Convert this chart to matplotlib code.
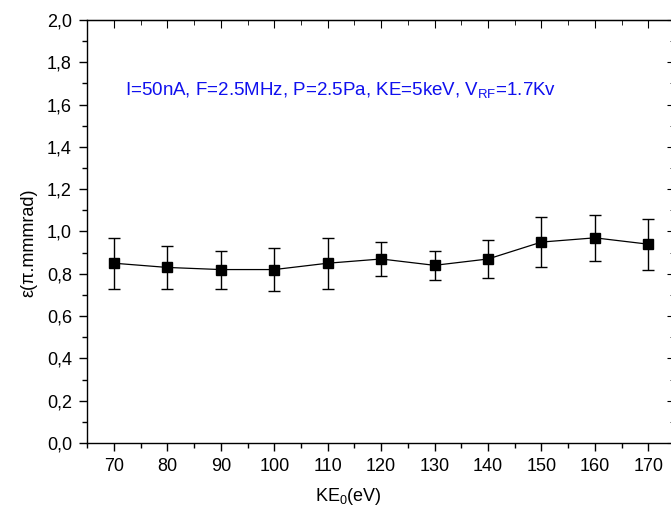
import numpy as np
import matplotlib
matplotlib.use("Agg")
from matplotlib import pyplot as plt
from matplotlib.ticker import MultipleLocator, FuncFormatter

plt.rcParams['font.family'] = ['Liberation Sans', 'DejaVu Sans']
plt.rcParams['mathtext.fontset'] = 'custom'
plt.rcParams['mathtext.rm'] = 'Liberation Sans'
plt.rcParams['mathtext.it'] = 'Liberation Sans'

# data
ke0 = [70, 80, 90, 100, 110, 120, 130, 140, 150, 160, 170]
emit = [0.85, 0.83, 0.82, 0.82, 0.85, 0.87, 0.84, 0.87, 0.95, 0.97, 0.94]
err_lo = [0.73, 0.73, 0.73, 0.72, 0.73, 0.79, 0.77, 0.78, 0.83, 0.86, 0.82]
err_hi = [0.97, 0.93, 0.91, 0.92, 0.97, 0.95, 0.91, 0.96, 1.07, 1.08, 1.06]

emit = np.array(emit)
yerr = [emit - np.array(err_lo), np.array(err_hi) - emit]

fig = plt.figure(figsize=(6.71, 5.09), dpi=100)
ax = fig.add_axes([0.130, 0.1297, 0.876, 0.831])

ax.errorbar(ke0, emit, yerr=yerr, color='black', lw=0.9, marker='s', ms=6.5,
            ecolor='black', elinewidth=1.0, capsize=4, capthick=1.0)

ax.set_xlim(65, 175)
ax.set_ylim(0, 2.0)
ax.xaxis.set_major_locator(MultipleLocator(10))
ax.xaxis.set_minor_locator(MultipleLocator(5))
ax.yaxis.set_major_locator(MultipleLocator(0.2))
ax.yaxis.set_minor_locator(MultipleLocator(0.1))
ax.yaxis.set_major_formatter(FuncFormatter(lambda v, p: f"{v:.1f}".replace('.', ',')))

ax.tick_params(which='both', direction='out', top=False, right=False, width=1.0, labelsize=13)
ax.tick_params(which='major', length=6, pad=5)
ax.tick_params(which='minor', length=3.5)
for s in ax.spines.values():
    s.set_linewidth(1.0)

# inward ticks on top and right
ax2 = ax.secondary_xaxis('top')
ax2.xaxis.set_major_locator(MultipleLocator(10))
ax2.xaxis.set_minor_locator(MultipleLocator(5))
ax2.tick_params(which='both', direction='in', labeltop=False)
ax2.tick_params(which='major', length=6)
ax2.tick_params(which='minor', length=3.5)
ax3 = ax.secondary_yaxis('right')
ax3.yaxis.set_major_locator(MultipleLocator(0.2))
ax3.yaxis.set_minor_locator(MultipleLocator(0.1))
ax3.tick_params(which='both', direction='in', labelright=False)
ax3.tick_params(which='major', length=6)
ax3.tick_params(which='minor', length=3.5)

ax.set_xlabel('KE$_0$(eV)', fontsize=13)
ax.xaxis.set_label_coords(0.444, -0.102)
ax.set_ylabel('ε(π.mmmrad)', fontsize=13)
ax.yaxis.set_label_coords(-0.084, 0.473)

ax.text(72.1, 1.67, 'I=50nA, F=2.5MHz, P=2.5Pa, KE=5keV, V$_{RF}$=1.7Kv',
        color='#1010ee', fontsize=13.5, va='center', ha='left')

fig.savefig('out.png', dpi=100)
